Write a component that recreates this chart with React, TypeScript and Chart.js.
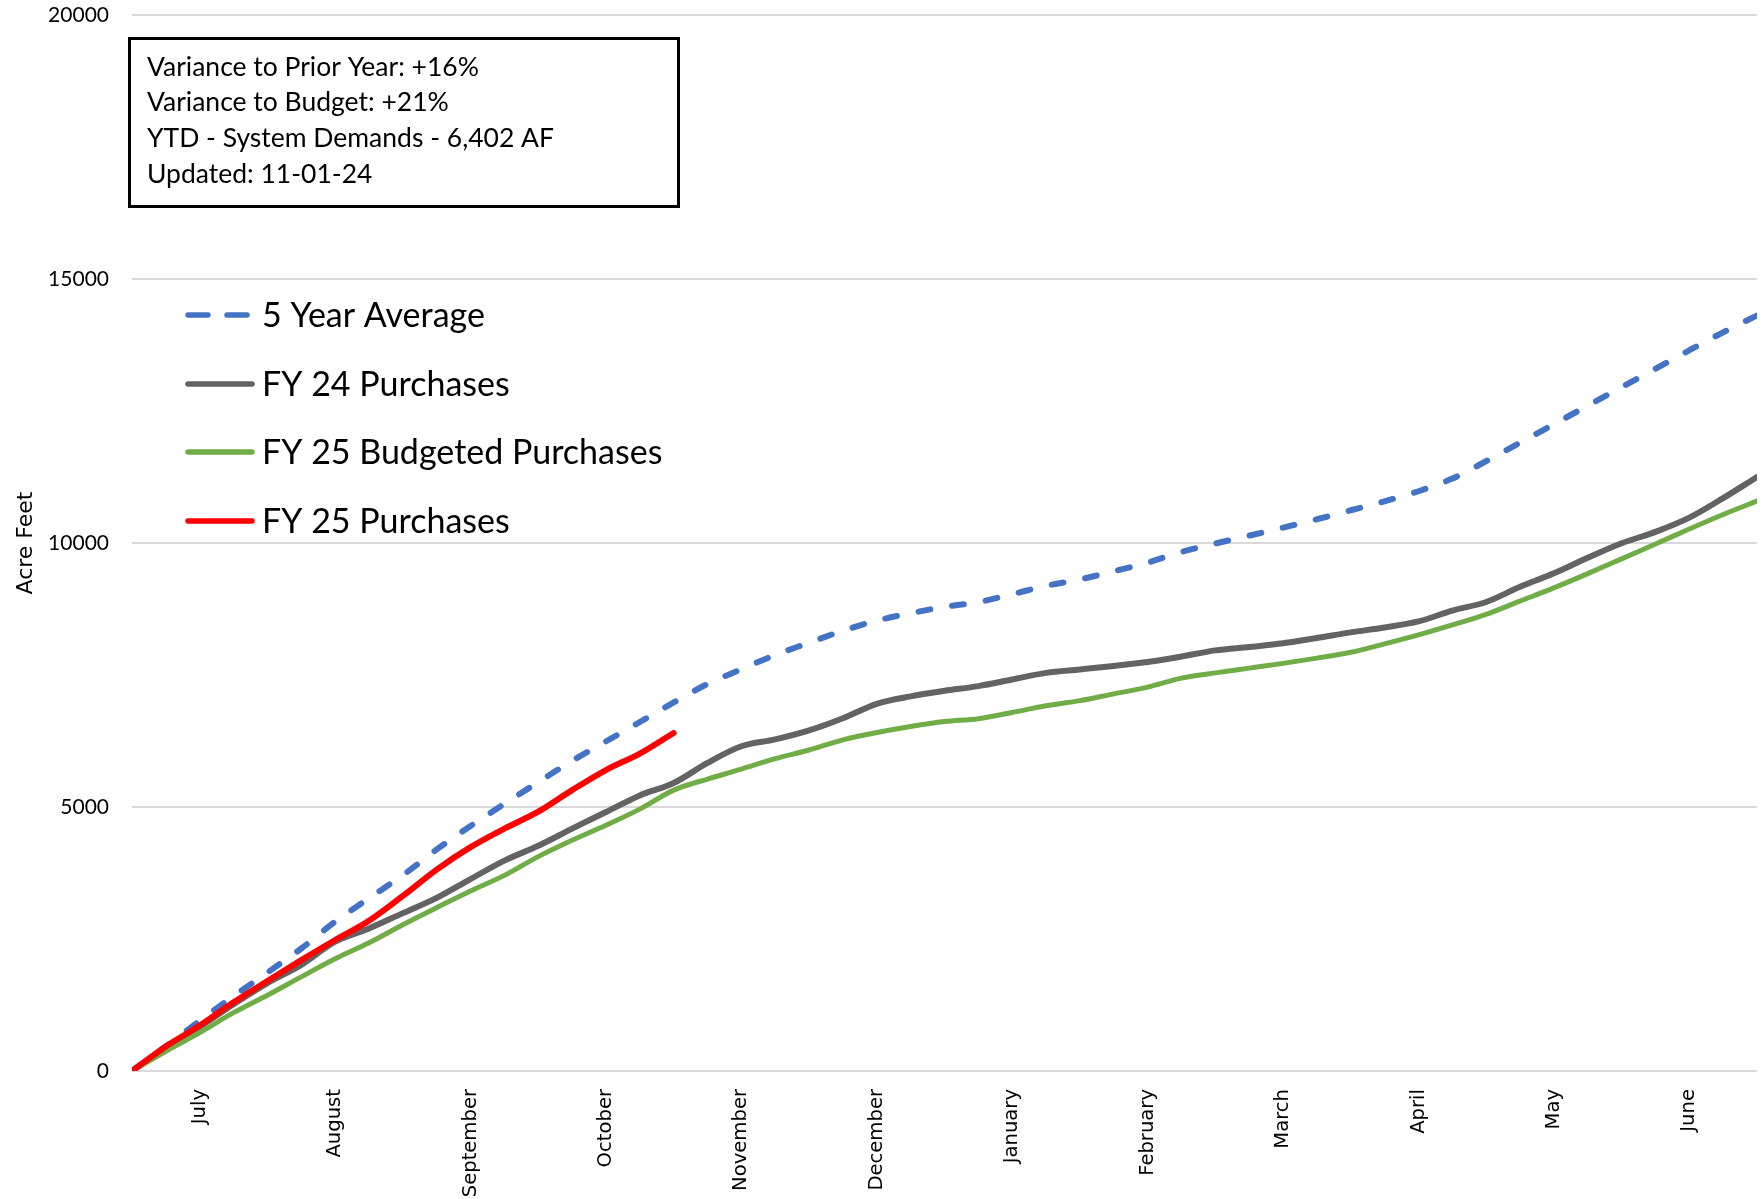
import React, { useEffect, useRef } from 'react';
import { Chart, registerables } from 'chart.js';

Chart.register(...registerables);

const monthLabels = ['July', 'August', 'September', 'October', 'November', 'December', 'January', 'February', 'March', 'April', 'May', 'June'];

// position along the fiscal year, in months since July 1
const monthPositions = [
  0, 0.25, 0.5, 0.75, 1, 1.25, 1.5, 1.75, 2, 2.25, 2.5, 2.75, 3, 3.25, 3.5, 3.75,
  4, 4.25, 4.5, 4.75, 5, 5.25, 5.5, 5.75, 6, 6.25, 6.5, 6.75, 7, 7.25, 7.5, 7.75,
  8, 8.25, 8.5, 8.75, 9, 9.25, 9.5, 9.75, 10, 10.25, 10.5, 10.75, 11, 11.25, 11.5, 11.75, 12,
];

const fiveYearAverage = [
  0, 468, 950, 1418, 1864, 2320, 2828, 3273, 3708, 4196, 4640, 5060, 5470, 5875, 6243, 6610,
  6980, 7330, 7610, 7880, 8110, 8340, 8530, 8670, 8790, 8880, 9030, 9190, 9310, 9465, 9630, 9830,
  9990, 10140, 10290, 10450, 10620, 10790, 10980, 11220, 11550, 11900, 12250, 12600, 12950, 13300, 13650, 13990, 14310,
];

const fy24Purchases = [
  0, 440, 840, 1265, 1665, 2010, 2450, 2700, 2990, 3280, 3635, 3985, 4265, 4590, 4905, 5220,
  5455, 5835, 6150, 6280, 6450, 6680, 6955, 7095, 7200, 7290, 7415, 7540, 7605, 7672, 7745, 7850,
  7966, 8030, 8100, 8200, 8307, 8400, 8515, 8720, 8882, 9170, 9425, 9720, 9995, 10210, 10480, 10850, 11250,
];

const fy25Budgeted = [
  0, 372, 728, 1105, 1436, 1783, 2126, 2428, 2771, 3095, 3410, 3705, 4060, 4369, 4655, 4960,
  5320, 5530, 5717, 5915, 6080, 6270, 6410, 6525, 6618, 6672, 6790, 6918, 7015, 7143, 7270, 7440,
  7540, 7630, 7720, 7820, 7930, 8090, 8260, 8450, 8650, 8900, 9150, 9420, 9700, 9980, 10265, 10540, 10795,
];

const fy25Purchases = [
  0, 465, 860, 1300, 1705, 2100, 2481, 2845, 3315, 3815, 4240, 4590, 4911, 5320, 5700, 6010,
  6402,
];

const seriesNames = ['5 Year Average', 'FY 24 Purchases', 'FY 25 Budgeted Purchases', 'FY 25 Purchases'];
const seriesColors = ['#4472C4', '#636363', '#70AD47', '#FF0000'];

const infoLines = [
  'Variance to Prior Year: +16%',
  'Variance to Budget: +21%',
  'YTD - System Demands - 6,402 AF',
  'Updated: 11-01-24',
];

const yAxisTitle = 'Acre Feet';

const toPoints = (vals: number[]) => vals.map((y, i) => ({ x: monthPositions[i], y }));

const overlayPlugin = {
  id: 'overlay',
  afterDraw(chart: any) {
    const ctx = chart.ctx as CanvasRenderingContext2D;
    ctx.save();
    // info box
    ctx.lineWidth = 3;
    ctx.strokeStyle = '#000';
    ctx.strokeRect(129.5, 38.5, 549, 168);
    ctx.fillStyle = '#000';
    ctx.font = '26.5px Lato';
    ctx.textBaseline = 'middle';
    ctx.textAlign = 'left';
    const lineY = [67, 102, 138, 174];
    infoLines.forEach((t, i) => ctx.fillText(t, 147, lineY[i]));

    // legend
    const rowY = [315, 384, 452, 521];
    chart.data.datasets.forEach((ds: any, i: number) => {
      ctx.beginPath();
      ctx.lineWidth = 5.5;
      ctx.strokeStyle = ds.borderColor;
      ctx.lineCap = 'round';
      ctx.setLineDash(ds.borderDash && ds.borderDash.length ? [20, 19] : []);
      ctx.moveTo(188, rowY[i]);
      ctx.lineTo(252, rowY[i]);
      ctx.stroke();
      ctx.setLineDash([]);
      ctx.fillStyle = '#000';
      ctx.font = '34px Lato';
      ctx.textBaseline = 'middle';
      ctx.fillText(ds.label, 262, rowY[i] + 1);
    });
    ctx.restore();
  },
};

export default function App() {
  const canvasRef = useRef<HTMLCanvasElement | null>(null);

  useEffect(() => {
    document.body.style.margin = '0';
    document.body.style.overflow = 'hidden';
    const canvas = canvasRef.current;
    if (!canvas) return;
    const series = [fiveYearAverage, fy24Purchases, fy25Budgeted, fy25Purchases];
    const widths = [6, 6, 5, 6];
    const chart = new Chart(canvas, {
      type: 'line',
      data: {
        datasets: series.map((vals, i) => ({
          label: seriesNames[i],
          data: toPoints(vals),
          borderColor: seriesColors[i],
          backgroundColor: seriesColors[i],
          borderWidth: widths[i],
          borderDash: i === 0 ? [12, 22] : [],
          borderCapStyle: 'round',
          borderJoinStyle: 'round',
          pointRadius: 0,
          pointHoverRadius: 0,
          cubicInterpolationMode: 'monotone',
          fill: false,
          order: 4 - i,
        })),
      },
      options: {
        responsive: false,
        animation: false,
        devicePixelRatio: 1,
        layout: { padding: { top: 15, right: 7, left: 0, bottom: 0 } },
        plugins: { legend: { display: false }, tooltip: { enabled: false } },
        scales: {
          x: {
            type: 'linear',
            min: 0,
            max: 12,
            grid: { display: false },
            border: { display: false },
            afterBuildTicks: (scale: any) => {
              scale.ticks = monthLabels.map((_, i) => ({ value: i + 0.5 }));
            },
            afterFit: (scale: any) => {
              scale.height = 128;
              scale.paddingLeft = 0;
              scale.paddingRight = 0;
            },
            ticks: {
              minRotation: 90,
              maxRotation: 90,
              autoSkip: false,
              padding: 10,
              color: '#000',
              font: { family: 'DejaVu Sans', size: 19.6 },
              callback: (v: any) => monthLabels[Math.floor(Number(v))] ?? '',
            },
          },
          y: {
            min: 0,
            max: 20000,
            grid: { color: '#d9d9d9', lineWidth: 2, drawTicks: false },
            border: { display: false },
            afterFit: (scale: any) => {
              scale.width = 132;
              scale.paddingTop = 0;
              scale.paddingBottom = 0;
            },
            ticks: {
              stepSize: 5000,
              padding: 23,
              color: '#000',
              font: { family: 'Lato', size: 21 },
              callback: (v: any) => String(v),
            },
            title: {
              display: true,
              text: yAxisTitle,
              color: '#000',
              font: { family: 'DejaVu Sans', size: 22 },
              padding: { top: 13, bottom: 0 },
            },
          },
        },
      },
      plugins: [overlayPlugin],
    } as any);
    return () => chart.destroy();
  }, []);

  return (
    <div style={{ width: 1764, height: 1199, position: 'relative' }}>
      <canvas ref={canvasRef} width={1764} height={1199} style={{ display: 'block', width: 1764, height: 1199 }} />
    </div>
  );
}
